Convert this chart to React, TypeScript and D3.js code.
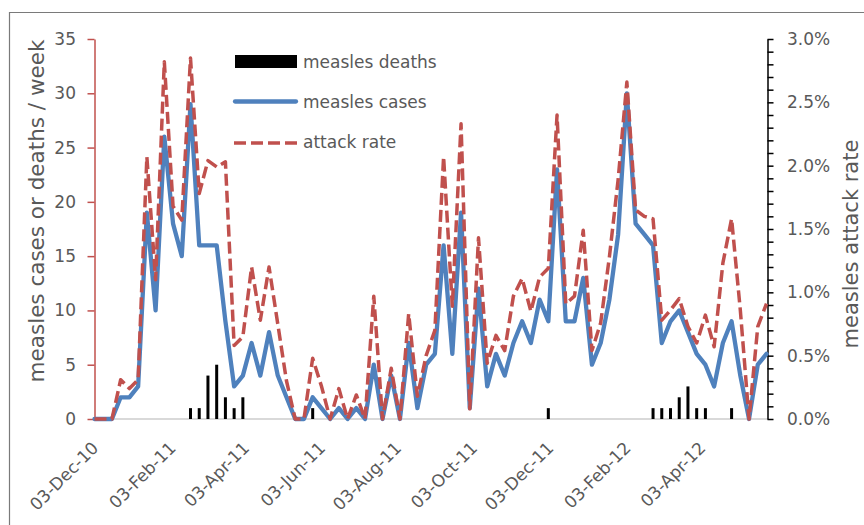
import React, { useEffect, useRef } from 'react';
import * as d3 from 'd3';

// weekly series, first week 03-Dec-10
const firstWeek = '03-Dec-10';
const cases = [
    0, 0, 0, 2, 2, 3, 19, 10, 26, 18, 15, 29, 16, 16, 16, 9, 3, 4, 7, 4,
    8, 4, 2, 0, 0, 2, 1, 0, 1, 0, 1, 0, 5, 0, 4, 0, 7, 1, 5, 6,
    16, 6, 19, 1, 12, 3, 6, 4, 7, 9, 7, 11, 9, 23, 9, 9, 13, 5, 7, 11,
    17, 30, 18, 17, 16, 7, 9, 10, 8, 6, 5, 3, 7, 9, 4, 0, 5, 6
];
const deaths = [
    0, 0, 0, 0, 0, 0, 0, 0, 0, 0, 0, 1, 1, 4, 5, 2, 1, 2, 0, 0,
    0, 0, 0, 0, 0, 1, 0, 0, 0, 0, 0, 0, 0, 0, 0, 0, 0, 0, 0, 0,
    0, 0, 0, 0, 0, 0, 0, 0, 0, 0, 0, 0, 1, 0, 0, 0, 0, 0, 0, 0,
    0, 0, 0, 0, 1, 1, 1, 2, 3, 1, 1, 0, 0, 1, 0, 0, 0, 0
];
// attack rate in percent
const attackRate = [
    0, 0, 0, 0.31, 0.24, 0.31, 2.07, 1.10, 2.82, 1.68, 1.57, 2.85, 1.78, 2.04, 1.99, 2.03, 0.58, 0.65, 1.20, 0.78,
    1.20, 0.75, 0.30, 0, 0, 0.48, 0.26, 0, 0.24, 0, 0.19, 0, 0.97, 0, 0.40, 0, 0.83, 0.18, 0.50, 0.70,
    2.07, 0.89, 2.33, 0.08, 1.43, 0.44, 0.66, 0.54, 0.97, 1.11, 0.85, 1.12, 1.19, 2.40, 0.91, 0.97, 1.49, 0.54, 0.76, 1.28,
    1.89, 2.66, 1.65, 1.60, 1.58, 0.78, 0.86, 0.95, 0.73, 0.60, 0.82, 0.57, 1.23, 1.58, 0.86, 0, 0.73, 0.91
];
const xTickLabels = ['03-Dec-10', '03-Feb-11', '03-Apr-11', '03-Jun-11', '03-Aug-11', '03-Oct-11', '03-Dec-11', '03-Feb-12', '03-Apr-12'];
const leftTicks = [0, 5, 10, 15, 20, 25, 30, 35];
const legendItems = ['measles deaths', 'measles cases', 'attack rate'];

const BLUE = '#4F81BD';
const RED = '#C0504D';
const GREY = '#595959';
const FONT = '"DejaVu Sans", sans-serif';

const App = () => {
    const ref = useRef<SVGSVGElement>(null);

    useEffect(() => {
        if (!ref.current) return;
        const svg = d3.select(ref.current);
        svg.selectAll('*').remove();

        const parse = d3.timeParse('%d-%b-%y');
        const fmt = d3.timeFormat('%d-%b-%y');
        const start = parse(firstWeek) as Date;
        const dates = cases.map((_, i) => d3.timeDay.offset(start, 7 * i));

        const left = 94.5, right = 767.5, top = 39, bottom = 419;
        const x = d3.scaleTime().domain([start, dates[dates.length - 1]]).range([left, right - 1]);
        const y = d3.scaleLinear().domain([0, 35]).range([bottom, top]);
        const yR = d3.scaleLinear().domain([0, 3]).range([bottom, top]);

        // outer frame
        svg.append('path').attr('d', 'M9.5,525 V12.5 H864')
            .attr('fill', 'none').attr('stroke', '#7a7a7a').attr('stroke-width', 1.2);

        // baseline
        svg.append('line').attr('x1', left).attr('x2', right).attr('y1', bottom).attr('y2', bottom)
            .attr('stroke', '#d9d9d9').attr('stroke-width', 2);

        // left axis
        const gL = svg.append('g').attr('transform', `translate(${left},0)`)
            .call(d3.axisLeft(y).tickValues(leftTicks).tickSize(7).tickSizeOuter(0).tickPadding(11.5));
        gL.select('.domain').attr('stroke', RED).attr('stroke-width', 1.5);
        gL.selectAll('.tick line').attr('stroke', RED).attr('stroke-width', 1.5);
        gL.selectAll('.tick text').attr('fill', GREY).style('font-family', FONT).style('font-size', '17px');

        // right axis
        const rTicks = d3.range(0, 31).map(d => d / 10);
        const gR = svg.append('g').attr('transform', `translate(${right},0)`)
            .call(d3.axisRight(yR).tickValues(rTicks).tickSize(6).tickSizeOuter(0).tickPadding(13.5)
                .tickFormat((d: any) => (Math.round(d * 10) % 5 === 0 ? d3.format('.1f')(d) + '%' : '')));
        gR.select('.domain').attr('stroke', '#000').attr('stroke-width', 1.5);
        gR.selectAll('.tick line').attr('stroke', '#000').attr('stroke-width', 1.5);
        gR.selectAll('.tick text').attr('fill', GREY).style('font-family', FONT).style('font-size', '17px');

        // x tick labels
        svg.append('g').selectAll('text').data(xTickLabels.map(s => parse(s) as Date)).join('text')
            .attr('transform', d => `translate(${x(d) + 5},449) rotate(-45)`)
            .attr('text-anchor', 'end')
            .attr('fill', GREY).style('font-family', FONT).style('font-size', '17px')
            .text(d => fmt(d));

        // axis titles
        svg.append('text').attr('transform', 'translate(44,211) rotate(-90)')
            .attr('text-anchor', 'middle').attr('fill', GREY)
            .style('font-family', FONT).style('font-size', '21.5px')
            .text('measles cases or deaths / week');
        svg.append('text').attr('transform', 'translate(858,244) rotate(-90)')
            .attr('text-anchor', 'middle').attr('fill', GREY)
            .style('font-family', FONT).style('font-size', '21px')
            .text('measles attack rate');

        // deaths bars
        svg.append('g').selectAll('rect').data(deaths.map((d, i) => ({ d, date: dates[i] })).filter(e => e.d > 0)).join('rect')
            .attr('x', e => x(e.date) - 1.5).attr('width', 3)
            .attr('y', e => y(e.d)).attr('height', e => bottom - y(e.d))
            .attr('fill', '#000');

        // cases line
        const lineCases = d3.line<number>().x((_, i) => x(dates[i])).y(d => y(d));
        svg.append('path').datum(cases).attr('d', lineCases)
            .attr('fill', 'none').attr('stroke', BLUE).attr('stroke-width', 4.3)
            .attr('stroke-linejoin', 'round').attr('stroke-linecap', 'round');

        // attack rate line
        const lineRate = d3.line<number>().x((_, i) => x(dates[i])).y(d => yR(d));
        svg.append('path').datum(attackRate).attr('d', lineRate)
            .attr('fill', 'none').attr('stroke', RED).attr('stroke-width', 3.5)
            .attr('stroke-dasharray', '12,5').attr('stroke-linejoin', 'round');

        // legend
        const lg = svg.append('g');
        lg.append('rect').attr('x', 235).attr('y', 55).attr('width', 62).attr('height', 13).attr('fill', '#000');
        lg.append('line').attr('x1', 235).attr('x2', 296).attr('y1', 101.5).attr('y2', 101.5)
            .attr('stroke', BLUE).attr('stroke-width', 4.3).attr('stroke-linecap', 'round');
        lg.append('line').attr('x1', 234).attr('x2', 297).attr('y1', 143).attr('y2', 143)
            .attr('stroke', RED).attr('stroke-width', 3.5).attr('stroke-dasharray', '12,5');
        lg.selectAll('text').data(legendItems).join('text')
            .attr('x', 303).attr('y', (_, i) => [67.5, 108, 148][i])
            .attr('fill', GREY).style('font-family', FONT).style('font-size', '17px')
            .text(d => d);
    }, []);

    return (
        <svg ref={ref} width={864} height={525}
            style={{ position: 'absolute', left: 0, top: 0, background: '#fff' }} />
    );
};

export default App;
